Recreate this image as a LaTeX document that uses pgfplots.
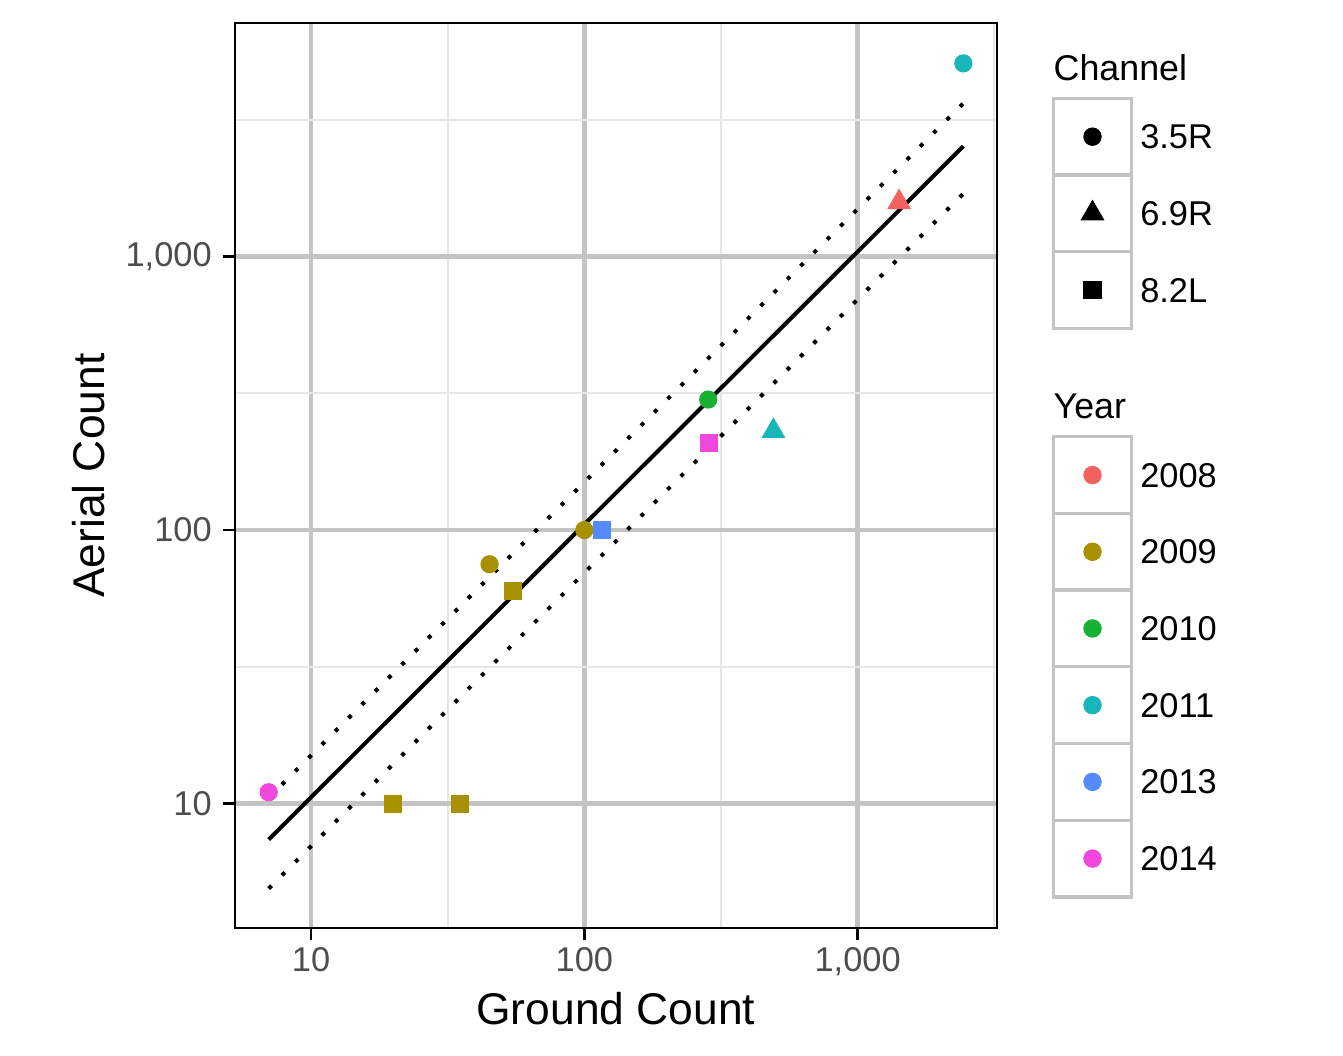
\documentclass[border=0pt]{standalone}
\usepackage{fontspec}
\setmainfont{Liberation Sans}
\usepackage{pgfplots}
\pgfplotsset{compat=1.18}
\definecolor{c2008}{HTML}{F3625E}
\definecolor{c2009}{HTML}{A89000}
\definecolor{c2010}{HTML}{19B133}
\definecolor{c2011}{HTML}{18B5B9}
\definecolor{c2013}{HTML}{548BFF}
\definecolor{c2014}{HTML}{F047DD}
\definecolor{majgrid}{HTML}{C4C4C4}
\definecolor{mingrid}{HTML}{E6E6E6}
\definecolor{keygray}{HTML}{C4C4C4}
\definecolor{ticktext}{HTML}{4D4D4D}
\newcommand{\tickfont}{\fontsize{17.2bp}{20bp}\selectfont}
\newcommand{\legtitlefont}{\fontsize{17.9bp}{21bp}\selectfont}
\newcommand{\titlefont}{\fontsize{22.2bp}{26bp}\selectfont}
\pgfplotsset{
  keyimg/.style={legend image code/.code={%
    \path[draw=none, fill=none] (0bp,-19.175bp) rectangle (39.2bp,19.175bp);
    \draw[mark repeat=1, mark phase=1] plot coordinates {(19.6bp,0bp)};}},
  mylegend/.style={legend cell align=left, legend style={at={(1.0743,#1)}, anchor=north west,
    draw=none, fill=none, inner sep=0pt, outer sep=0pt, row sep=0pt, column sep=4.3bp,
    nodes={draw=none, inner sep=0pt, outer sep=0pt, text depth=0pt, font=\tickfont, text=black}}},
  frame/.style={at={(117.5bp,63.85bp)}, anchor=south west, width=380.85bp, height=452.65bp, scale only axis},
}
\begin{document}
\begin{tikzpicture}
\useasboundingbox (0,0) rectangle (671.5bp,528bp);
\begin{axis}[frame,
  xmode=log, ymode=log,
  xmin=5.27, xmax=3228, ymin=3.50, ymax=7140,
  xtick={10,100,1000}, xticklabels={10,100,{1,000}},
  ytick={10,100,1000}, yticklabels={10,100,{1,000}},
  minor xtick={31.623,316.23,3162.3}, minor ytick={31.623,316.23,3162.3},
  grid=both,
  major grid style={draw=majgrid, line width=2.3bp},
  minor grid style={draw=mingrid, line width=1bp},
  minor tick length=0pt, major tick length=6bp,
  tick align=outside, xtick pos=bottom, ytick pos=left,
  tick style={black, line width=1.3bp},
  axis line style={black, line width=1.1bp},
  ticklabel style={font=\tickfont, text=ticktext},
  xticklabel style={inner sep=0pt, yshift=-3.5bp},
  yticklabel style={inner sep=0pt, xshift=-5.5bp},
  xlabel={Ground Count}, ylabel={Aerial Count},
  label style={font=\titlefont, text=black},
  xlabel style={at={(axis description cs:0.5,-0.1060)}, anchor=base},
  ylabel style={at={(axis description cs:-0.1707,0.5)}, anchor=base},
  mylegend=0.9168,
  every mark/.append style={line width=0.2bp},
]
\addlegendimage{only marks, mark=*, mark size=4.4bp, black, keyimg}
\addlegendentry{3.5R}
\addlegendimage{only marks, mark=triangle*, mark size=6.5bp, black, keyimg}
\addlegendentry{6.9R}
\addlegendimage{only marks, mark=square*, mark size=4.3bp, black, keyimg}
\addlegendentry{8.2L}
% fitted line and bounds
\addplot[black, line width=2bp, forget plot] coordinates {(7,7.39) (2437,2531)};
\addplot[black, line width=2bp, dash pattern=on 2bp off 7.4bp, forget plot] coordinates {(7,10.5) (2437,3631)};
\addplot[black, line width=2bp, dash pattern=on 2bp off 7.4bp, forget plot] coordinates {(7,4.89) (2437,1698)};
% points
\addplot[only marks, mark=triangle*, mark size=6.5bp, c2008, forget plot] coordinates {(1418,1578)};
\addplot[only marks, mark=*, mark size=4.35bp, c2009, forget plot] coordinates {(45,75) (100,100)};
\addplot[only marks, mark=square*, mark size=4.25bp, c2009, forget plot] coordinates {(20,10) (35,10) (55,60)};
\addplot[only marks, mark=*, mark size=4.35bp, c2010, forget plot] coordinates {(284,300)};
\addplot[only marks, mark=triangle*, mark size=6.5bp, c2011, forget plot] coordinates {(492,230)};
\addplot[only marks, mark=*, mark size=4.35bp, c2011, forget plot] coordinates {(2437,5082)};
\addplot[only marks, mark=square*, mark size=4.25bp, c2013, forget plot] coordinates {(116,100)};
\addplot[only marks, mark=*, mark size=4.35bp, c2014, forget plot] coordinates {(7,11)};
\addplot[only marks, mark=square*, mark size=4.25bp, c2014, forget plot] coordinates {(286,208)};
\end{axis}
\begin{axis}[frame, hide axis, clip=false, xmin=0, xmax=1, ymin=0, ymax=1, mylegend=0.5430]
\addlegendimage{only marks, mark=*, mark size=4.4bp, c2008, keyimg}
\addlegendentry{2008}
\addlegendimage{only marks, mark=*, mark size=4.4bp, c2009, keyimg}
\addlegendentry{2009}
\addlegendimage{only marks, mark=*, mark size=4.4bp, c2010, keyimg}
\addlegendentry{2010}
\addlegendimage{only marks, mark=*, mark size=4.4bp, c2011, keyimg}
\addlegendentry{2011}
\addlegendimage{only marks, mark=*, mark size=4.4bp, c2013, keyimg}
\addlegendentry{2013}
\addlegendimage{only marks, mark=*, mark size=4.4bp, c2014, keyimg}
\addlegendentry{2014}
% key boxes
\draw[keygray, line width=1.65bp]
  (axis description cs:1.0743,0.9168) rectangle (axis description cs:1.17723,0.83208)
  (axis description cs:1.0743,0.83208) rectangle (axis description cs:1.17723,0.74736)
  (axis description cs:1.0743,0.74736) rectangle (axis description cs:1.17723,0.66264);
\draw[keygray, line width=1.65bp]
  (axis description cs:1.0743,0.5430) rectangle (axis description cs:1.17723,0.45828)
  (axis description cs:1.0743,0.45828) rectangle (axis description cs:1.17723,0.37356)
  (axis description cs:1.0743,0.37356) rectangle (axis description cs:1.17723,0.28884)
  (axis description cs:1.0743,0.28884) rectangle (axis description cs:1.17723,0.20412)
  (axis description cs:1.0743,0.20412) rectangle (axis description cs:1.17723,0.1194)
  (axis description cs:1.0743,0.1194) rectangle (axis description cs:1.17723,0.03468);
\node[anchor=base west, font=\legtitlefont, inner sep=0pt] at (axis description cs:1.0743,0.9370) {Channel};
\node[anchor=base west, font=\legtitlefont, inner sep=0pt] at (axis description cs:1.0743,0.5634) {Year};
\end{axis}
\end{tikzpicture}
\end{document}
